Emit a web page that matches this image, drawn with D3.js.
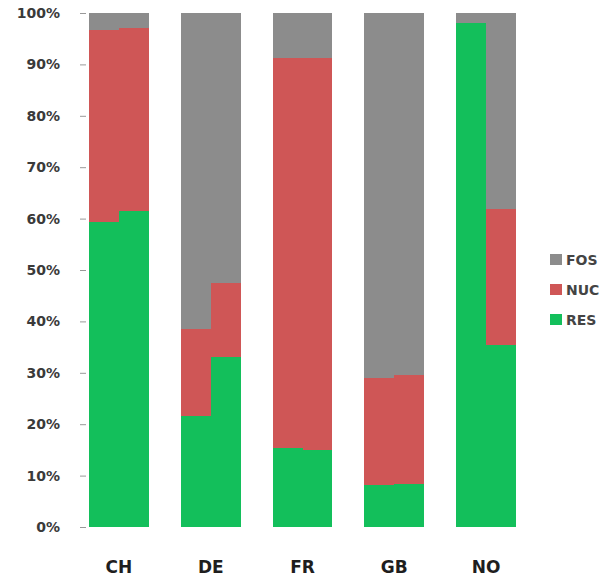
<!DOCTYPE html>
<html><head><meta charset="utf-8">
<script src="https://cdn.jsdelivr.net/npm/d3@7"></script>
<style>body{margin:0;background:#fff;} svg{display:block;}</style>
</head><body>
<svg id="chart" width="607" height="577"></svg>
<script>
const countries = ["CH","DE","FR","GB","NO"];
const periods = ["a","b"];
const seriesNames = ["RES","NUC","FOS"];
const RES = {CH:[59.3,61.5], DE:[21.6,33.1], FR:[15.4,15.0], GB:[8.2,8.4], NO:[98.0,35.4]};
const NUC = {CH:[37.3,35.5], DE:[17.0,14.4], FR:[75.8,76.2], GB:[20.8,21.2], NO:[0.0,26.5]};
const FOS = {CH:[3.4,3.0], DE:[61.4,52.5], FR:[8.8,8.8], GB:[71.0,70.4], NO:[2.0,38.1]};
const yTicks = [0,10,20,30,40,50,60,70,80,90,100];
const legendOrder = ["FOS","NUC","RES"];
const colors = {RES:"#13bf5b", NUC:"#cf5656", FOS:"#8c8c8c"};

const svg = d3.select("#chart");
const x = d3.scaleBand().domain(countries).range([73.1, 531.9]).paddingInner(0.35).paddingOuter(0.175);
const xs = d3.scaleBand().domain(periods).range([0, x.bandwidth()]);
const y = d3.scaleLinear().domain([0,100]).range([527, 13]);

const rows = [];
countries.forEach(c => periods.forEach((p,i) => {
  rows.push({country:c, period:p, RES:RES[c][i], NUC:NUC[c][i], FOS:FOS[c][i]});
}));
const stacked = d3.stack().keys(seriesNames)(rows);

const g = svg.append("g").attr("shape-rendering","crispEdges");
stacked.forEach(layer => {
  g.selectAll(null).data(layer).enter().append("rect")
    .attr("x", d => Math.round(x(d.data.country) + xs(d.data.period)))
    .attr("width", d => Math.round(x(d.data.country) + xs(d.data.period) + xs.bandwidth()) - Math.round(x(d.data.country) + xs(d.data.period)))
    .attr("y", d => Math.round(y(d[1])))
    .attr("height", d => Math.max(0, Math.round(y(d[0])) - Math.round(y(d[1]))))
    .attr("fill", colors[layer.key]);
});

const yAxis = d3.axisLeft(y).tickValues(yTicks).tickFormat(d => d + "%").tickSize(6).tickPadding(20);
const ya = svg.append("g").attr("transform","translate(86,0)").call(yAxis);
ya.select(".domain").remove();
ya.selectAll(".tick line").attr("stroke","#999");
ya.selectAll(".tick text").attr("fill","#3a3a3a").style("font-family","DejaVu Sans").style("font-weight","bold").style("font-size","14px");

const xAxis = d3.axisBottom(x).tickSize(0).tickPadding(0);
const xa = svg.append("g").attr("transform","translate(0,556)").call(xAxis);
xa.select(".domain").remove();
xa.selectAll(".tick text").attr("fill","#1e1e1e").attr("dy","1em").style("font-family","DejaVu Sans").style("font-weight","bold").style("font-size","17px");

const leg = svg.append("g");
legendOrder.forEach((k,i) => {
  const gy = 260 + i*30;
  leg.append("rect").attr("x",550).attr("y",gy-6).attr("width",12).attr("height",11).attr("fill",colors[k]);
  leg.append("text").attr("x",566).attr("y",gy+5).text(k)
    .attr("fill","#444").style("font-family","DejaVu Sans").style("font-weight","bold").style("font-size","14px");
});
</script>
</body></html>
